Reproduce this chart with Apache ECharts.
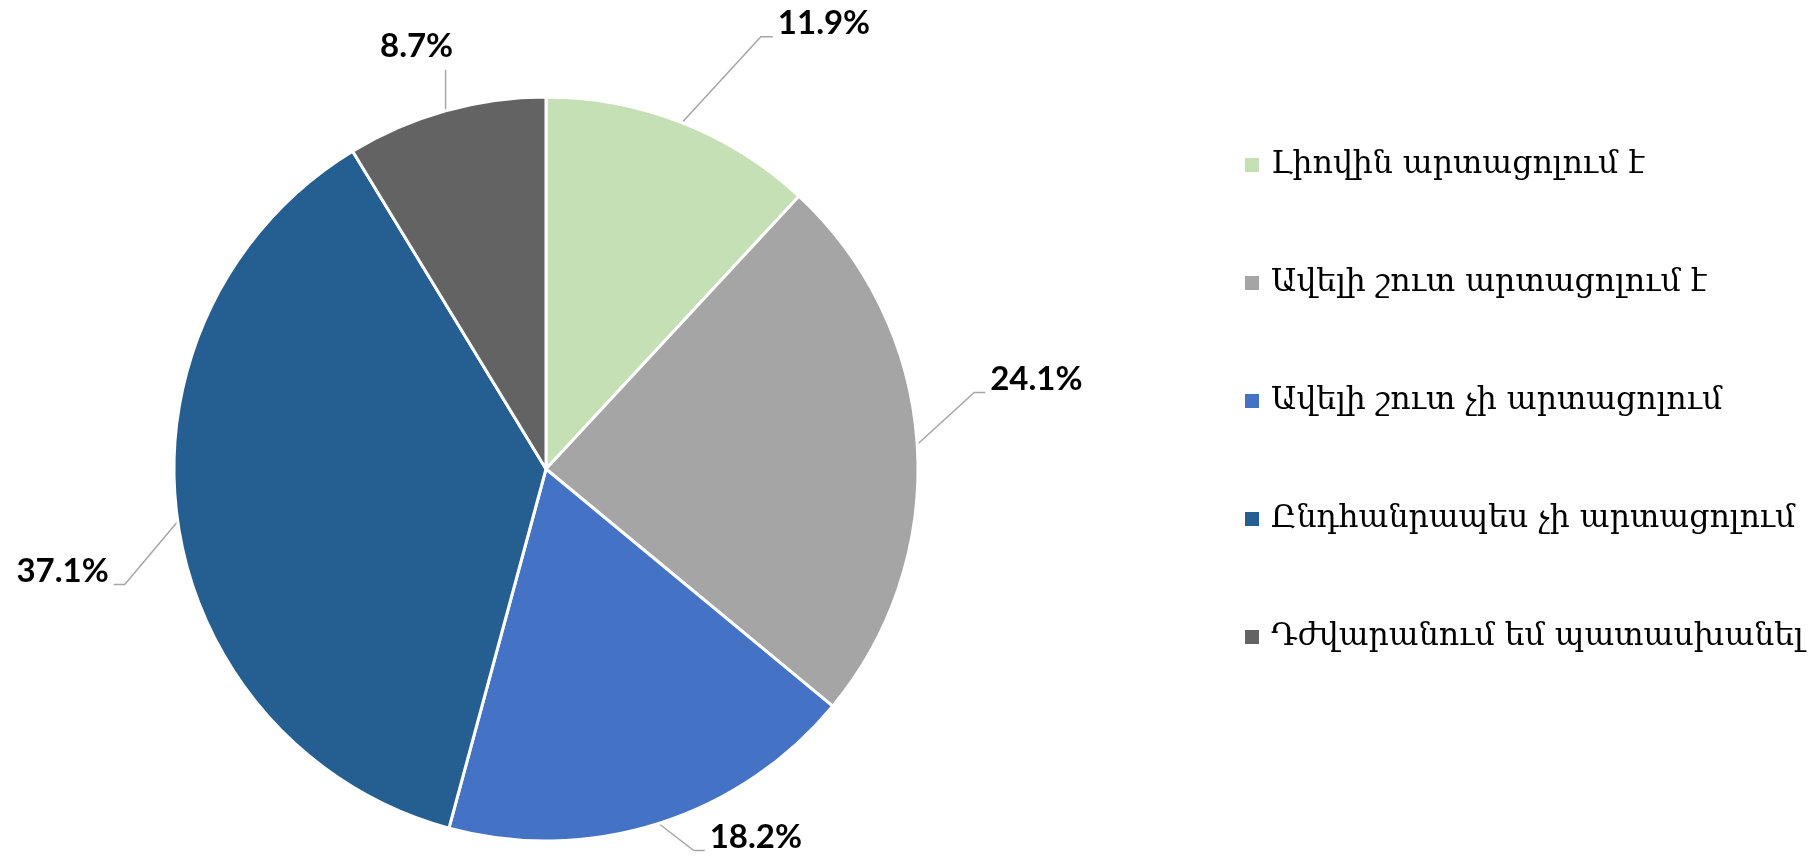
<!DOCTYPE html>
<html>
<head>
<meta charset="utf-8">
<script src="https://cdn.jsdelivr.net/npm/echarts@6/dist/echarts.min.js"></script>
<style>
html,body{margin:0;padding:0;background:#fff;}
#chart{width:1819px;height:857px;}
</style>
</head>
<body>
<div id="chart"></div>
<script>
// ---- data ----
const categories = [
  'Լիովին արտացոլում է',
  'Ավելի շուտ արտացոլում է',
  'Ավելի շուտ չի արտացոլում',
  'Ընդհանրապես չի արտացոլում',
  'Դժվարանում եմ պատասխանել'
];
const values = [11.9, 24.1, 18.2, 37.1, 8.7];
const colors = ['#C5E0B4', '#A5A5A5', '#4472C4', '#255E91', '#636363'];

// label leader styling: elbow offset from slice edge, horizontal tail
const leaderElbow = [[79, -86], [57, -52], [35, 27], [-53, 63], [0, -41]];
const leaderTail = [12, 11, 11, 11, 0];

const CENTER = [546, 469];
const RADIUS = 372;

const chart = echarts.init(document.getElementById('chart'));

function edgePoint(idx) {
  const total = values.reduce((a, b) => a + b, 0);
  let cum = 0;
  for (let i = 0; i < idx; i++) cum += values[i];
  const mid = (cum + values[idx] / 2) / total * Math.PI * 2;
  return [CENTER[0] + RADIUS * Math.sin(mid), CENTER[1] - RADIUS * Math.cos(mid)];
}

chart.setOption({
  backgroundColor: '#ffffff',
  animation: false,
  color: colors,
  legend: {
    orient: 'vertical',
    left: 1238,
    top: 144,
    itemWidth: 16,
    itemHeight: 16,
    itemGap: 86,
    icon: 'rect',
    textStyle: {
      fontFamily: 'DejaVu Serif',
      fontSize: 31.5,
      lineHeight: 30,
      color: '#000',
      padding: [0, 0, 0, 6]
    },
    data: categories
  },
  series: [{
    type: 'pie',
    center: CENTER,
    radius: RADIUS,
    startAngle: 90,
    clockwise: true,
    avoidLabelOverlap: false,
    itemStyle: { borderColor: '#fff', borderWidth: 3 },
    label: {
      show: true,
      position: 'outside',
      formatter: p => p.value.toFixed(1) + '%',
      fontFamily: 'Lato',
      fontWeight: 'bold',
      fontSize: 33,
      color: '#000'
    },
    labelLine: {
      show: true,
      length: 40,
      length2: 10,
      lineStyle: { color: '#A6A6A6', width: 1.5 }
    },
    labelLayout: function (params) {
      const i = params.dataIndex;
      const p0 = (params.labelLinePoints && params.labelLinePoints[0]) || edgePoint(i);
      const e = leaderElbow[i];
      const p1 = [p0[0] + e[0], p0[1] + e[1]];
      const right = e[0] >= 0;
      const t = leaderTail[i];
      const p2 = [p1[0] + (right ? t : -t), p1[1]];
      if (t === 0) {
        return {
          x: p1[0] - 29,
          y: p1[1] - 23,
          align: 'center',
          verticalAlign: 'middle',
          labelLinePoints: [p0, p1, p1]
        };
      }
      return {
        x: p2[0] + (right ? 5 : -5),
        y: p2[1] - 13,
        align: right ? 'left' : 'right',
        verticalAlign: 'middle',
        labelLinePoints: [p0, p1, p2]
      };
    },
    data: categories.map((c, i) => ({ name: c, value: values[i] }))
  }]
});
</script>
</body>
</html>
